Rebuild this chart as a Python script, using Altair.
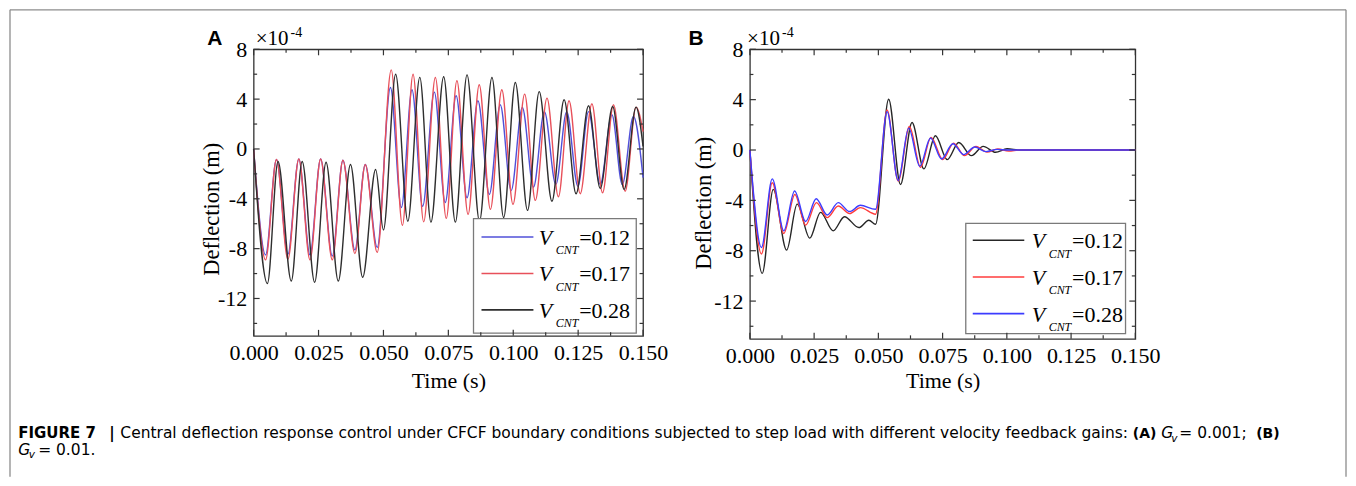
import altair as alt
import pandas as pd

# ---------------- data (deflection in units of 1e-4 m, time in s) ----------------
V_CNT = [0.12, 0.17, 0.28]

# Panel A  (Gv = 0.001)
A_T_012 = [0, 0.0046, 0.0088, 0.0132, 0.0174, 0.0217, 0.0258, 0.0303, 0.0344, 0.0390, 0.0430, 0.0476,
           0.0527, 0.0569, 0.0610, 0.0651, 0.0696, 0.0738, 0.0780, 0.0822, 0.0864, 0.0908, 0.0950, 0.0992,
           0.1035, 0.1078, 0.1120, 0.1164, 0.1206, 0.1249, 0.1290, 0.1335, 0.1380, 0.1420, 0.1463, 0.1500]
A_V_012 = [0, -8.5, -0.85, -8.45, -0.8, -8.5, -0.8, -8.6, -0.9, -8.1, -1.25, -7.9,
           4.93, -4.7, 4.75, -4.6, 4.56, -4.3, 4.27, -3.92, 3.87, -3.65, 3.55, -3.33,
           3.33, -3.07, 3.0, -2.85, 3.0, -2.99, 3.0, -2.85, 2.75, -2.85, 2.6, -2.3]

A_T_017 = [0, 0.0046, 0.0088, 0.0132, 0.0174, 0.0217, 0.0258, 0.0303, 0.0344, 0.0390, 0.0430, 0.0476,
           0.0530, 0.0573, 0.0614, 0.0655, 0.0700, 0.0742, 0.0783, 0.0826, 0.0869, 0.0912, 0.0956, 0.0999,
           0.1044, 0.1085, 0.1130, 0.1174, 0.1215, 0.1258, 0.1303, 0.1344, 0.1386, 0.1431, 0.1473, 0.1500]
A_V_017 = [0, -8.9, -0.85, -8.85, -0.8, -8.9, -0.8, -8.9, -0.9, -8.4, -1.25, -8.3,
           6.35, -6.13, 6.0, -5.85, 5.73, -5.57, 5.47, -5.25, 5.15, -4.85, 4.75, -4.45,
           4.4, -4.13, 4.08, -3.84, 3.87, -3.6, 3.63, -3.52, 3.55, -3.39, 3.36, 1.4]

A_T_028 = [0, 0.0053, 0.0094, 0.0145, 0.0187, 0.0235, 0.0279, 0.0326, 0.0373, 0.0420, 0.0470, 0.0500,
           0.0547, 0.0594, 0.0640, 0.0683, 0.0732, 0.0777, 0.0822, 0.0870, 0.0918, 0.0963, 0.1008, 0.1055,
           0.1100, 0.1149, 0.1196, 0.1242, 0.1290, 0.1335, 0.1383, 0.1427, 0.1473, 0.1500]
A_V_028 = [0, -10.8, -1.0, -10.6, -1.0, -10.7, -1.07, -10.6, -1.25, -10.3, -1.65, -6.5,
           6.0, -5.8, 5.75, -5.87, 5.8, -5.87, 5.95, -5.8, 5.73, -5.5, 5.33, -4.93,
           4.6, -4.19, 3.95, -3.6, 3.47, -3.17, 3.41, -3.25, 3.36, 0.2]

# Panel B  (Gv = 0.01)
B_T_012 = [0, 0.0048, 0.0091, 0.0143, 0.0184, 0.0233, 0.0275, 0.0324, 0.0368, 0.0424, 0.0463, 0.0489,
           0.0540, 0.0586, 0.0631, 0.0677, 0.0722, 0.0768, 0.0813, 0.0862, 0.0908, 0.0956, 0.1001, 0.1050, 0.1500]
B_V_012 = [0, -9.8, -3.13, -7.95, -4.3, -7.0, -4.95, -6.42, -5.3, -6.16, -5.58, -5.9,
           4.03, -2.74, 2.18, -1.5, 1.13, -0.76, 0.6, -0.45, 0.29, -0.18, 0.1, 0, 0]

B_T_017 = [0, 0.0045, 0.0087, 0.0132, 0.0175, 0.0217, 0.0259, 0.0301, 0.0344, 0.0388, 0.0430, 0.0489,
           0.0534, 0.0577, 0.0621, 0.0664, 0.0705, 0.0751, 0.0793, 0.0835, 0.0880, 0.0923, 0.0965, 0.1007,
           0.1050, 0.1500]
B_V_017 = [0, -8.26, -2.6, -6.63, -3.53, -5.97, -4.18, -5.37, -4.45, -5.05, -4.58, -5.1,
           3.18, -2.47, 1.87, -1.37, 1.0, -0.76, 0.55, -0.45, 0.29, -0.16, 0.08, -0.08, 0, 0]

B_T_028 = [0, 0.0045, 0.0087, 0.0132, 0.0174, 0.0217, 0.0258, 0.0301, 0.0344, 0.0388, 0.0430, 0.0489,
           0.0534, 0.0577, 0.0618, 0.0661, 0.0703, 0.0746, 0.0790, 0.0832, 0.0875, 0.0919, 0.0962, 0.1005, 0.1500]
B_V_028 = [0, -7.74, -2.29, -6.42, -3.26, -5.68, -3.87, -5.16, -4.18, -4.89, -4.39, -4.71,
           3.05, -2.42, 1.74, -1.29, 0.95, -0.71, 0.5, -0.37, 0.24, -0.13, 0.05, 0, 0]

# axis ticks / labels
X_MAJOR = [0, 0.025, 0.05, 0.075, 0.1, 0.125, 0.15]
X_MINOR = [0.0125, 0.0375, 0.0625, 0.0875, 0.1125, 0.1375]
Y_MAJOR = [8, 4, 0, -4, -8, -12]
Y_MINOR = [6, 2, -2, -6, -10, -14]
X_DOMAIN = [0, 0.15]
Y_DOMAIN = [-15, 8]

CAPTION_TEXTS = ["FIGURE 7", "|",
                 "Central deflection response control under CFCF boundary conditions subjected to step load with different velocity feedback gains:",
                 "(A)", "G", "v", "= 0.001;", "(B)", "G", "v", "= 0.01."]

# ---------------- styles ----------------
SERIF = "Liberation Serif"
SANS = "Liberation Sans"
CAPF = "DejaVu Sans"
AXC = "#333333"
FRAME = "#8c8c8c"
ONE = pd.DataFrame({"k": [0]})


def txt(s, x, y, font=SERIF, size=22, weight="normal", style="normal", color="black"):
    return alt.Chart(ONE).mark_text(align="left", baseline="alphabetic", font=font, fontSize=size,
                                    fontWeight=weight, fontStyle=style, color=color).encode(
        x=alt.value(x), y=alt.value(y), text=alt.value(s))


def rule(x, y, x2=None, y2=None, color=AXC, width=1.2):
    enc = dict(x=alt.value(x), y=alt.value(y))
    if x2 is not None:
        enc["x2"] = alt.value(x2)
    if y2 is not None:
        enc["y2"] = alt.value(y2)
    return alt.Chart(ONE).mark_rule(color=color, strokeWidth=width).encode(**enc)


def panel(series, colors, W, H, ytitle_x, ytitle_y, xtitle_y, legend_geom, letter, letter_x, exp_x):
    xs = alt.Scale(domain=X_DOMAIN, nice=False, zero=False)
    ys = alt.Scale(domain=Y_DOMAIN, nice=False, zero=False)
    xaxis = alt.Axis(values=X_MAJOR, format=".3f", title="Time (s)", labelFont=SERIF, labelFontSize=22,
                     labelColor="black", labelPadding=7, labelFlush=False, labelOverlap=False,
                     ticks=False, tickSize=0, domain=False, grid=False, titleFont=SERIF,
                     titleFontSize=22, titleFontWeight="normal", titleColor="black",
                     titleY=xtitle_y, titleBaseline="alphabetic")
    yaxis = alt.Axis(values=Y_MAJOR,
                     labelExpr="datum.value < 0 ? '-' + toString(-datum.value) : toString(datum.value)",
                     title="Deflection (m)", labelFont=SERIF, labelFontSize=22, labelColor="black",
                     labelPadding=7, labelFlush=False, labelOverlap=False, ticks=False, tickSize=0,
                     domain=False, grid=False, titleFont=SERIF, titleFontSize=22.5,
                     titleFontWeight="normal", titleColor="black", titleAngle=270,
                     titleX=ytitle_x, titleY=ytitle_y, titleAlign="center", titleBaseline="alphabetic")
    layers = []
    for (t, v), c in zip(series, colors):
        df = pd.DataFrame({"t": t, "v": v})
        layers.append(alt.Chart(df).mark_line(interpolate="monotone", strokeWidth=1.4, color=c).encode(
            x=alt.X("t:Q", scale=xs, axis=xaxis),
            y=alt.Y("v:Q", scale=ys, axis=yaxis)))
    # legend
    bx1, bx2, by1, by2, lx1, lx2, ly0, dy, vx = legend_geom
    layers.append(alt.Chart(ONE).mark_rect(fill="white", stroke="#7a7a7a", strokeWidth=1.3).encode(
        x=alt.value(bx1), x2=alt.value(bx2), y=alt.value(by1), y2=alt.value(by2)))
    for i, (val, c) in enumerate(zip(V_CNT, colors)):
        ly = ly0 + i * dy
        layers.append(rule(lx1, ly, x2=lx2, color=c, width=1.6))
        layers.append(txt("V", vx, ly + 8, size=22, style="italic"))
        layers.append(txt("CNT", vx + 17, ly + 17.5, size=12, style="italic"))
        layers.append(txt("=%.2f" % val, vx + 40.5, ly + 8, size=22))
    # inward ticks on all four sides
    for vals, L in ((X_MAJOR, 6), (X_MINOR, 3.5)):
        df = pd.DataFrame({"t": vals})
        for y1, y2 in ((H, H - L), (0, L)):
            layers.append(alt.Chart(df).mark_rule(color=AXC, strokeWidth=1.2).encode(
                x=alt.X("t:Q", scale=xs, axis=xaxis), y=alt.value(y1), y2=alt.value(y2)))
    for vals, L in ((Y_MAJOR, 6), (Y_MINOR, 3.5)):
        df = pd.DataFrame({"v": vals})
        for x1, x2 in ((0, L), (W, W - L)):
            layers.append(alt.Chart(df).mark_rule(color=AXC, strokeWidth=1.2).encode(
                y=alt.Y("v:Q", scale=ys, axis=yaxis), x=alt.value(x1), x2=alt.value(x2)))
    # panel letter and exponent
    layers.append(txt(letter, letter_x, -4, font=SANS, size=21, weight="bold"))
    layers.append(txt("\u00d710", exp_x, -4.7, size=21))
    layers.append(txt("-4", exp_x + 35, -12.3, size=14))
    return layers, W, H


panel_a, WA, HA = panel(
    [(A_T_012, A_V_012), (A_T_017, A_V_017), (A_T_028, A_V_028)],
    ["#5050d8", "#e8505a", "#2e2e2e"], 390, 287, -35.5, 159.7, 52,
    (220.2, 383.2, 169.5, 284.3, 228.2, 280.2, 188, 36.5, 285.5), "A", -46.5, 2.0)

panel_b, WB, HB = panel(
    [(B_T_012, B_V_012), (B_T_017, B_V_017), (B_T_028, B_V_028)],
    ["#262626", "#ff3c3c", "#3c3cff"], 386, 290, -39.5, 153.7, 49,
    (216.2, 376.2, 174.3, 284.7, 223.2, 274.8, 191.3, 36.7, 282.2), "B", -61.5, -2.8)

# figure frame (left, top, right) and caption, positioned relative to panel A's plot area
L, T, R, Bt = -244.0, -39.5, 1094.0, 428.0
panel_a += [rule(L, T, y2=Bt, color=FRAME, width=1.3),
            rule(L, T, x2=R, color=FRAME, width=1.3),
            rule(R, T, y2=Bt, color=FRAME, width=1.3)]

cap_style = {"bold": dict(font=CAPF, size=15, weight="bold"),
             "bold_s": dict(font=CAPF, size=14, weight="bold"),
             "reg": dict(font=CAPF, size=15.5),
             "ital": dict(font=CAPF, size=15.5, style="italic"),
             "sub": dict(font=CAPF, size=10.5, style="italic")}
cap_layout = [("bold", -235.8, 389.3), ("bold", -144.5, 389.3), ("reg", -133.5, 389.3),
              ("bold_s", 880.5, 389.3), ("ital", 909.0, 389.3), ("sub", 919.0, 392.8),
              ("reg", 927.0, 389.3), ("bold_s", 1004.0, 389.3),
              ("ital", -235.8, 406.3), ("sub", -225.3, 409.8), ("reg", -215.8, 406.3)]
for s, (st, x, y) in zip(CAPTION_TEXTS, cap_layout):
    panel_a.append(txt(s, x, y, **cap_style[st]))

chart_a = alt.layer(*panel_a).properties(width=WA, height=HA)
chart_b = alt.layer(*panel_b).properties(width=WB, height=HB)

chart = alt.hconcat(chart_a, chart_b, spacing=107, bounds="flush").properties(
    padding=0).configure_view(stroke=AXC, strokeWidth=1.3)

chart.save("out.html", embed_options={"renderer": "svg", "actions": False})
